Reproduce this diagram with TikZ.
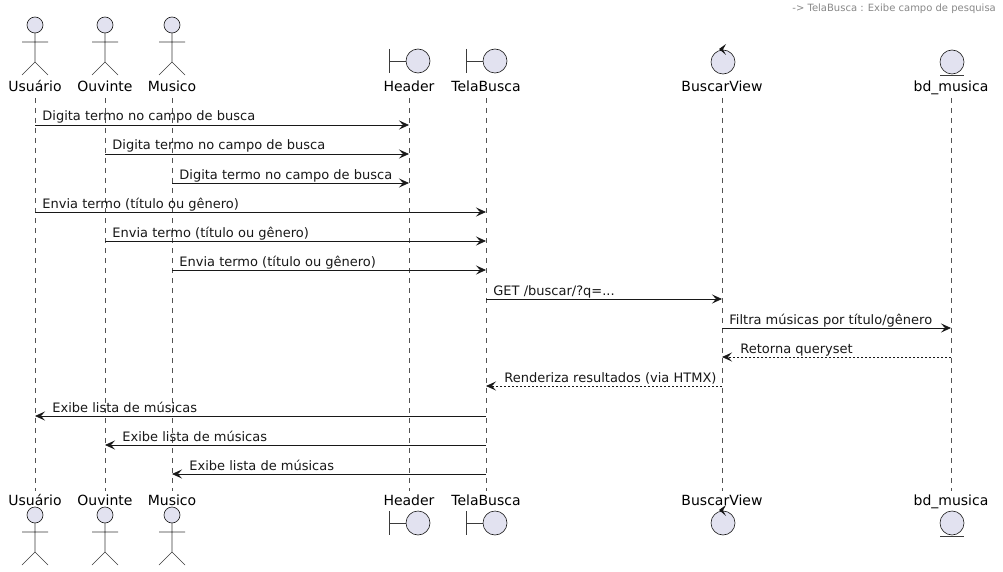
\documentclass[tikz,border=0pt]{standalone}
\usepackage{fontspec}
\setmainfont{DejaVu Sans}
\usetikzlibrary{arrows.meta,positioning}
\definecolor{UmlFill}{HTML}{E2E2F0}
\definecolor{UmlLine}{HTML}{181818}
\definecolor{UmlGray}{HTML}{888888}

\tikzset{
    stickman/.pic={
        \draw[icon] (0,0) circle[radius=8];
        \draw[stick] (0,8) -- (0,37) (-13,17) -- (13,17)
            (-13,50) -- (0,37) -- (13,50);
    },
    boundaryicon/.pic={
        \draw[stick] (-29,-12) -- (-29,12) (-29,0) -- (-12,0);
        \draw[icon] (0,0) circle[radius=12];
    },
    controlicon/.pic={
        \draw[icon] (0,0) circle[radius=12];
        \fill[UmlLine] (-4,-13) -- (3,-18) -- (0,-12.5) -- (3,-7) -- cycle;
    },
    entityicon/.pic={
        \draw[icon] (0,0) circle[radius=12];
        \draw[stick] (-12,13.5) -- (12,13.5);
    },
}

\begin{document}
\begin{tikzpicture}[x=1pt, y=-1pt,
    pname/.style={font=\fontsize{14}{16}\selectfont, inner sep=0pt, outer ysep=3pt, text height=11pt, text depth=3pt, anchor=base},
    lifeline/.style={draw=UmlLine!75, dash pattern=on 5pt off 5pt, line width=0.7pt},
    msg/.style={-{Stealth[length=10pt, width=9pt, inset=4pt]}, UmlLine, line width=0.8pt},
    reply/.style={msg, dash pattern=on 2pt off 2pt},
    lbl/.style={font=\fontsize{13}{15}\selectfont, inner sep=0pt, anchor=base west, yshift=4pt},
    icon/.style={draw=UmlLine, fill=UmlFill, line width=0.6pt},
    stick/.style={UmlLine!85, line width=0.6pt}
]
    \fill[white] (0,0) rectangle (1003,572);
    \useasboundingbox (0,0) rectangle (1003,572);

    % header note
    \node[font=\fontsize{10}{12}\selectfont, text=UmlGray, inner sep=0pt, anchor=base east] (note) at (996,12) {-> TelaBusca : Exibe campo de pesquisa};

    % participants, top and bottom
    \node[pname] (usr)   at (35,92)  {Usuário};
    \node[pname] (ouv)   at (105,92) {Ouvinte};
    \node[pname] (mus)   at (172,92) {Musico};
    \node[pname] (hdr)   at (409,92) {Header};
    \node[pname] (tela)  at (486,92) {TelaBusca};
    \node[pname] (view)  at (722,92) {BuscarView};
    \node[pname] (bd)    at (951,92) {bd\_musica};
    \node[pname] (usrB)  at (35,505)  {Usuário};
    \node[pname] (ouvB)  at (105,505) {Ouvinte};
    \node[pname] (musB)  at (172,505) {Musico};
    \node[pname] (hdrB)  at (409,505) {Header};
    \node[pname] (telaB) at (486,505) {TelaBusca};
    \node[pname] (viewB) at (722,505) {BuscarView};
    \node[pname] (bdB)   at (951,505) {bd\_musica};

    % icons
    \foreach \x in {35,105,172} {
        \pic at (\x,25) {stickman};
        \pic at (\x,515) {stickman};
    }
    \foreach \x in {418,495} {
        \pic at (\x,61) {boundaryicon};
        \pic at (\x,523) {boundaryicon};
    }
    \pic at (723,62) {controlicon};
    \pic at (723,523) {controlicon};
    \pic at (952,62) {entityicon};
    \pic at (952,523) {entityicon};

    % lifelines
    \foreach \who in {usr,ouv,mus,hdr,tela,view,bd} {
        \path[lifeline] (\who.south) -- (\who B.north);
    }

    % messages
    \foreach \a/\b/\y/\p/\dx/\s/\t in {
        usr/hdr/125/0/7/msg/{Digita termo no campo de busca},
        ouv/hdr/154/0/7/msg/{Digita termo no campo de busca},
        mus/hdr/183/0/7/msg/{Digita termo no campo de busca},
        usr/tela/212/0/7/msg/{Envia termo (título ou gênero)},
        ouv/tela/241/0/7/msg/{Envia termo (título ou gênero)},
        mus/tela/270/0/7/msg/{Envia termo (título ou gênero)},
        tela/view/299/0/7/msg/{GET /buscar/?q=...},
        view/bd/328/0/7/msg/{Filtra músicas por título/gênero},
        bd/view/357/1/18/reply/{Retorna queryset},
        view/tela/386/1/18/reply/{Renderiza resultados (via HTMX)},
        tela/usr/416/1/17/msg/{Exibe lista de músicas},
        tela/ouv/445/1/17/msg/{Exibe lista de músicas},
        tela/mus/474/1/17/msg/{Exibe lista de músicas}
    }
        \draw[\s] (\a |- 0,\y) -- (\b |- 0,\y) node[lbl, pos=\p, xshift=\dx pt] {\t};
\end{tikzpicture}
\end{document}
